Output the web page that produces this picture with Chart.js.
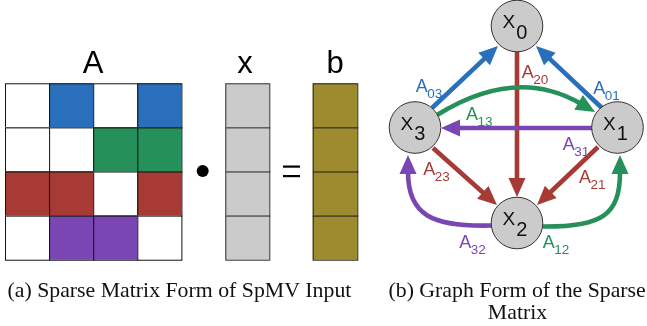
<!DOCTYPE html>
<html>
<head>
<meta charset="utf-8">
<script src="https://cdn.jsdelivr.net/npm/chart.js@4/dist/chart.umd.min.js"></script>
<style>
html,body{margin:0;padding:0;background:#fff;}
#wrap{width:647px;height:326px;}
</style>
</head>
<body>
<div id="wrap"><canvas id="c" width="647" height="326"></canvas></div>
<script>
// ---- data ----
const vectorLabels = ['A', 'x', 'b'];
const rowIndex = [0, 1, 2, 3];
// matrix A sparsity pattern: 0 = zero entry, 1 = nonzero entry
const matrixA = [
  [0, 1, 0, 1],
  [0, 0, 1, 1],
  [1, 1, 0, 1],
  [0, 1, 1, 0]
];
const nodeNames = ['0', '1', '2', '3'];
// edges: A_ij  => arrow from x_j to x_i
const edgeNames = ['03', '01', '20', '13', '31', '23', '21', '32', '12'];
const captionA = '(a) Sparse Matrix Form of SpMV Input';
const captionB = ['(b) Graph Form of the Sparse', 'Matrix'];

// ---- styles / layout ----
const rowColors = ['#2a6fbb', '#25905a', '#a73a35', '#7946b3'];
const grayFill = '#cbcbcb';
const oliveFill = '#9e8b2f';
const M = { x0: 5, y0: 83.3, cell: 44.1 };
const VX = { x0: 225.3, w: 44 };
const VB = { x0: 312.7, w: 44.6 };
const nodePos = { '0': [517, 26], '1': [617.5, 127.5], '2': [517, 223], '3': [415, 127.5] };
const R = 25.8;
const edgeGeom = {
  '03': { p: [[432, 108], [498, 46]], lab: [415.7, 92] },
  '01': { p: [[602, 108], [536, 46]], lab: [593.3, 94] },
  '20': { p: [[517, 52], [517, 197]], lab: [521.7, 78.3] },
  '13': { p: [[437, 115], [516, 66], [595, 112]], lab: [466, 120] },
  '31': { p: [[592, 128], [441, 128]], lab: [562.7, 150] },
  '23': { p: [[433, 148], [497, 205]], lab: [423.3, 175] },
  '21': { p: [[598, 147], [537, 205]], lab: [579, 183.3] },
  '32': { p: [[491, 225.5], [432, 227], [408, 215], [408, 155]], lab: [459.3, 248.3] },
  '12': { p: [[543, 226.5], [602, 227], [620, 215], [620, 155]], lab: [542.7, 248.3] }
};
function edgeColor(e) { return rowColors[+e[0]]; }

const diagramPlugin = {
  id: 'diagram',
  beforeDatasetsDraw(chart) {
    const ctx = chart.ctx, xs = chart.scales.x, ys = chart.scales.y;
    const X = v => xs.getPixelForValue(v), Y = v => ys.getPixelForValue(v);
    ctx.save();
    // matrix A
    ctx.lineWidth = 1;
    ctx.strokeStyle = '#111';
    rowIndex.forEach(r => {
      matrixA[r].forEach((v, c) => {
        const x = X(M.x0 + c * M.cell), y = Y(M.y0 + r * M.cell);
        const w = X(M.x0 + (c + 1) * M.cell) - x, h = Y(M.y0 + (r + 1) * M.cell) - y;
        ctx.fillStyle = v ? rowColors[r] : '#ffffff';
        ctx.fillRect(x, y, w, h);
        ctx.strokeRect(x + 0.5, y + 0.5, w, h);
      });
    });
    // vectors
    [[VX, grayFill, '#333'], [VB, oliveFill, '#222']].forEach(([V, fill, st]) => {
      rowIndex.forEach(r => {
        const x = X(V.x0), y = Y(M.y0 + r * M.cell);
        const w = X(V.x0 + V.w) - x, h = Y(M.y0 + (r + 1) * M.cell) - y;
        ctx.fillStyle = fill;
        ctx.fillRect(x, y, w, h);
        ctx.strokeStyle = st;
        ctx.strokeRect(x + 0.5, y + 0.5, w, h);
      });
    });
    // dot and equals
    ctx.fillStyle = '#000';
    ctx.beginPath();
    ctx.arc(X(202.7), Y(171), 6, 0, Math.PI * 2);
    ctx.fill();
    ctx.fillRect(X(283), Y(165.5), 17, 2.2);
    ctx.fillRect(X(283), Y(175), 17, 2.2);
    // labels A x b
    ctx.font = '31px "Liberation Sans", Arial, sans-serif';
    ctx.textAlign = 'center';
    ctx.textBaseline = 'alphabetic';
    const labX = [93, 245, 335];
    vectorLabels.forEach((t, i) => ctx.fillText(t, X(labX[i]), Y(73.3)));

    // arrows
    edgeNames.forEach(e => {
      const g = edgeGeom[e];
      const pts = g.p.map(p => [X(p[0]), Y(p[1])]);
      const col = edgeColor(e);
      const tip = pts[pts.length - 1];
      const prev = pts[pts.length - 2];
      let dx = tip[0] - prev[0], dy = tip[1] - prev[1];
      const L = Math.hypot(dx, dy); dx /= L; dy /= L;
      const hl = 19, hw = 8.5;
      const base = [tip[0] - dx * hl, tip[1] - dy * hl];
      ctx.strokeStyle = col;
      ctx.lineWidth = 4.6;
      ctx.lineCap = 'butt';
      ctx.beginPath();
      ctx.moveTo(pts[0][0], pts[0][1]);
      const endPt = [tip[0] - dx * (hl - 2), tip[1] - dy * (hl - 2)];
      if (pts.length === 2) ctx.lineTo(endPt[0], endPt[1]);
      else if (pts.length === 3) ctx.quadraticCurveTo(pts[1][0], pts[1][1], endPt[0], endPt[1]);
      else ctx.bezierCurveTo(pts[1][0], pts[1][1], pts[2][0], pts[2][1], endPt[0], endPt[1]);
      ctx.stroke();
      ctx.fillStyle = col;
      ctx.beginPath();
      ctx.moveTo(tip[0], tip[1]);
      ctx.lineTo(base[0] - dy * hw, base[1] + dx * hw);
      ctx.lineTo(base[0] + dy * hw, base[1] - dx * hw);
      ctx.closePath();
      ctx.fill();
    });
    ctx.restore();
  },
  afterDatasetsDraw(chart) {
    const ctx = chart.ctx, xs = chart.scales.x, ys = chart.scales.y;
    const X = v => xs.getPixelForValue(v), Y = v => ys.getPixelForValue(v);
    ctx.save();
    ctx.textBaseline = 'alphabetic';
    ctx.textAlign = 'left';
    // node labels
    nodeNames.forEach(n => {
      const [cx, cy] = nodePos[n];
      ctx.fillStyle = '#111';
      ctx.font = '19px "Liberation Sans", Arial, sans-serif';
      const xw = ctx.measureText('X').width;
      ctx.font = '20px "Liberation Sans", Arial, sans-serif';
      const nw = ctx.measureText(n).width;
      const left = X(cx) - (xw + nw + 1) / 2 - 2;
      ctx.font = '19px "Liberation Sans", Arial, sans-serif';
      ctx.fillText('X', left, Y(cy + 2));
      ctx.font = '20px "Liberation Sans", Arial, sans-serif';
      ctx.fillText(n, left + xw + 1, Y(cy + 12.5));
    });
    // edge labels
    edgeNames.forEach(e => {
      const [lx, ly] = edgeGeom[e].lab;
      ctx.fillStyle = edgeColor(e);
      ctx.font = '18px "Liberation Sans", Arial, sans-serif';
      ctx.fillText('A', X(lx), Y(ly));
      const aw = ctx.measureText('A').width;
      ctx.font = '13.5px "Liberation Sans", Arial, sans-serif';
      ctx.fillText(e, X(lx) + aw - 0.5, Y(ly + 5.5));
    });
    // captions
    ctx.fillStyle = '#111';
    ctx.font = '21.8px "Liberation Serif", "Times New Roman", serif';
    ctx.textAlign = 'left';
    ctx.fillText(captionA, X(7.5), Y(296.5));
    ctx.fillText(captionB[0], X(388.5), Y(296.5));
    ctx.textAlign = 'center';
    ctx.fillText(captionB[1], X(517.5), Y(319));
    ctx.restore();
  }
};

new Chart(document.getElementById('c'), {
  type: 'scatter',
  data: {
    datasets: [{
      data: nodeNames.map(n => ({ x: nodePos[n][0], y: nodePos[n][1] })),
      pointRadius: R,
      pointHoverRadius: R,
      backgroundColor: grayFill,
      borderColor: '#333',
      borderWidth: 1,
      clip: false
    }]
  },
  options: {
    responsive: false,
    animation: false,
    events: [],
    layout: { padding: 0, autoPadding: false },
    plugins: { legend: { display: false }, tooltip: { enabled: false } },
    scales: {
      x: { type: 'linear', min: 0, max: 647, display: false },
      y: { type: 'linear', min: 0, max: 326, reverse: true, display: false }
    }
  },
  plugins: [diagramPlugin]
});
</script>
</body>
</html>
